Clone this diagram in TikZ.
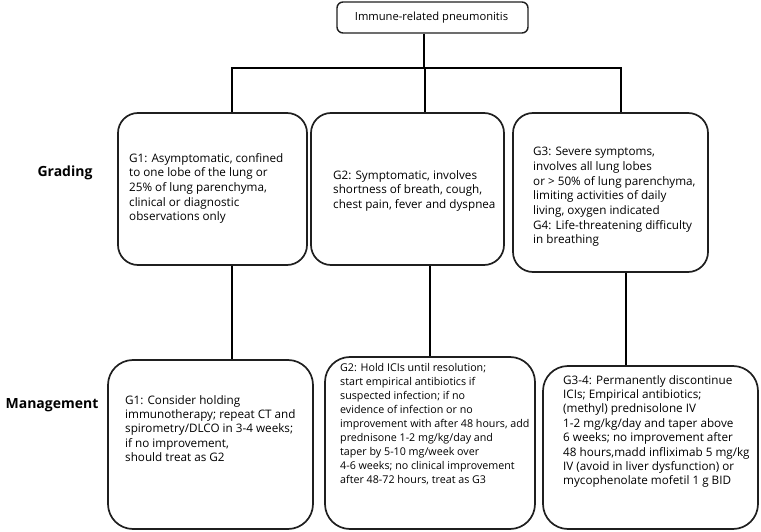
\documentclass[tikz,border=0pt]{standalone}
\usepackage{fontspec}
\setmainfont{Open Sans}
\begin{document}
\begin{tikzpicture}[x=1pt,y=-1pt,
  boxg/.style={draw=black!88,line width=1.7pt,rounded corners=20pt,inner sep=0pt,fill=white},
  boxm/.style={draw=black!88,line width=1.7pt,rounded corners=25pt,inner sep=0pt,fill=white},
  boxt/.style={draw=black!88,line width=1.4pt,rounded corners=6pt,inner sep=0pt,fill=white},
  txtg/.style={anchor=north west,inner sep=0pt,align=left,font=\fontsize{11.7}{14.7}\selectfont},
  txtm/.style={anchor=north west,inner sep=0pt,align=left,font=\fontsize{11.7}{14.4}\selectfont},
  txts/.style={anchor=north west,inner sep=0pt,align=left,font=\fontsize{10.7}{14}\selectfont},
  lab/.style={inner sep=0pt,font=\fontsize{14}{16}\selectfont\bfseries},
  conn/.style={draw=black,line width=2.2pt}]
\useasboundingbox (0,0) rectangle (761,532);
% boxes
\node[boxt,minimum width=191pt,minimum height=31pt] (title) at (432.5,17.5) {};
\node[inner sep=0pt,font=\fontsize{11.2}{13}\selectfont] (titletxt) at (431.5,18) {Immune-related pneumonitis};
\node[boxg,minimum width=189pt,minimum height=152pt] (g1) at (212.5,189) {};
\node[boxg,minimum width=193pt,minimum height=152pt] (g2) at (407.5,189) {};
\node[boxg,minimum width=195pt,minimum height=159pt] (g3) at (610.5,192.5) {};
\node[boxm,minimum width=205pt,minimum height=169pt] (m1) at (210.5,444.5) {};
\node[boxm,minimum width=210pt,minimum height=172pt] (m2) at (430,443) {};
\node[boxm,minimum width=215pt,minimum height=163pt] (m3) at (650.5,447.5) {};
% connectors
\coordinate (j0) at (424,68);
\coordinate (jl) at (232,68);
\coordinate (jm) at (425,68);
\coordinate (jr) at (621,68);
\coordinate (c1) at (232,0);
\coordinate (c2) at (430,0);
\coordinate (c3) at (626,0);
\draw[conn] (title.south -| j0) -- (j0);
\draw[conn] ([xshift=-1.1pt]jl) -- ([xshift=1.1pt]jr);
\draw[conn] (jl) -- (jl |- g1.north);
\draw[conn] (jm) -- (jm |- g2.north);
\draw[conn] (jr) -- (jr |- g3.north);
\draw[conn] (g1.south -| c1) -- (m1.north -| c1);
\draw[conn] (g2.south -| c2) -- (m2.north -| c2);
\draw[conn] (g3.south -| c3) -- (m3.north -| c3);
% labels
\node[lab] (grading) at (65,173) {Grading};
\node[lab] (management) at (52,405) {Management};
% texts
\node[txtg] (t1) at (129,153) {G1: Asymptomatic, confined\\to one lobe of the lung or\\25\% of lung parenchyma,\\clinical or diagnostic\\observations only};
\node[txtg] (t2) at (333,170) {G2: Symptomatic, involves\\shortness of breath, cough,\\chest pain, fever and dyspnea};
\node[txtg] (t3) at (533,147) {G3: Severe symptoms,\\involves all lung lobes\\or > 50\% of lung parenchyma,\\limiting activities of daily\\living, oxygen indicated\\G4: Life-threatening difficulty\\in breathing};
\node[txtm] (t4) at (125,395) {G1: Consider holding\\immunotherapy; repeat CT and\\spirometry/DLCO in 3-4 weeks;\\if no improvement,\\should treat as G2};
\node[txts] (t5) at (340,363) {G2: Hold ICIs until resolution;\\start empirical antibiotics if\\suspected infection; if no\\evidence of infection or no\\improvement with after 48 hours, add\\prednisone 1-2 mg/kg/day and\\taper by 5-10 mg/week over\\4-6 weeks; no clinical improvement\\after 48-72 hours, treat as G3};
\node[txtm] (t6) at (563,375) {G3-4: Permanently discontinue\\ICIs; Empirical antibiotics;\\(methyl) prednisolone IV\\1-2 mg/kg/day and taper above\\6 weeks; no improvement after\\48 hours,madd infliximab 5 mg/kg\\IV (avoid in liver dysfunction) or\\mycophenolate mofetil 1 g BID};
\end{tikzpicture}
\end{document}
